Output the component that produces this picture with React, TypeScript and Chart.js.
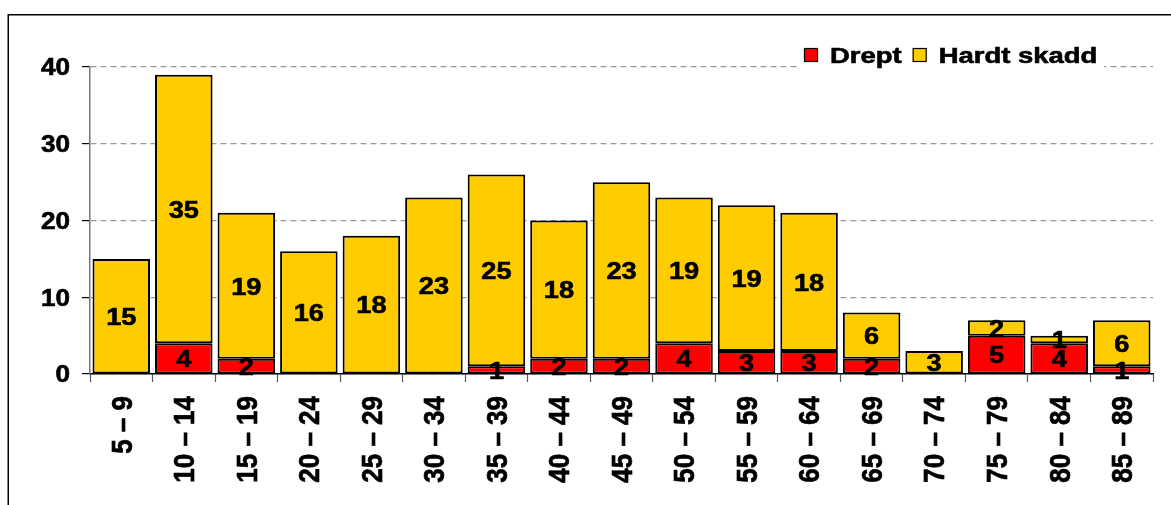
import React, { useEffect, useRef } from "react";
import { Chart, registerables } from "chart.js";

Chart.register(...registerables);

const categories = ["5 – 9", "10 – 14", "15 – 19", "20 – 24", "25 – 29", "30 – 34", "35 – 39", "40 – 44", "45 – 49", "50 – 54", "55 – 59", "60 – 64", "65 – 69", "70 – 74", "75 – 79", "80 – 84", "85 – 89"];
const drept = [0, 4, 2, 0, 0, 0, 1, 2, 2, 4, 3, 3, 2, 0, 5, 4, 1];
const hardtSkadd = [15, 35, 19, 16, 18, 23, 25, 18, 23, 19, 19, 18, 6, 3, 2, 1, 6];
const yTicks = [0, 10, 20, 30, 40];

const FONT = '"Liberation Sans", Arial, Helvetica, sans-serif';
const SX = 1.11;

function drawText(ctx: CanvasRenderingContext2D, text: string, x: number, y: number, size: number, align: CanvasTextAlign, sx: number) {
  ctx.save();
  ctx.translate(x, y);
  ctx.scale(sx, 1);
  ctx.font = `bold ${size}px ${FONT}`;
  ctx.textAlign = align;
  ctx.textBaseline = "alphabetic";
  ctx.fillStyle = "#000";
  ctx.strokeStyle = "#000";
  ctx.lineWidth = 0.6;
  ctx.fillText(text, 0, size * 0.716 / 2);
  ctx.strokeText(text, 0, size * 0.716 / 2);
  ctx.restore();
}

const decorPlugin = {
  id: "decor",
  beforeDraw(chart: any) {
    const ctx = chart.ctx as CanvasRenderingContext2D;
    ctx.save();
    ctx.fillStyle = "#fff";
    ctx.fillRect(0, 0, chart.width, chart.height);
    ctx.strokeStyle = "#000";
    ctx.lineWidth = 1.5;
    ctx.beginPath();
    ctx.moveTo(8.25, chart.height);
    ctx.lineTo(8.25, 14.75);
    ctx.lineTo(chart.width, 14.75);
    ctx.stroke();
    ctx.restore();
  },
  afterDatasetsDraw(chart: any) {
    const ctx = chart.ctx as CanvasRenderingContext2D;
    chart.data.datasets.forEach((ds: any, i: number) => {
      const meta = chart.getDatasetMeta(i);
      meta.data.forEach((el: any, j: number) => {
        const v = ds.data[j];
        if (!v) return;
        const p = el.getProps(["x", "y", "base"], true);
        drawText(ctx, String(v), p.x, (p.y + p.base) / 2, 24.5, "center", SX);
      });
    });
  },
  afterDraw(chart: any) {
    const ctx = chart.ctx as CanvasRenderingContext2D;
    const area = chart.chartArea;
    const ys = chart.scales.y;
    const xs = chart.scales.x;
    yTicks.forEach((t) => {
      drawText(ctx, String(t), area.left - 20, ys.getPixelForValue(t), 23.5, "right", SX);
    });
    categories.forEach((c, i) => {
      const x = xs.getPixelForValue(i);
      ctx.save();
      ctx.translate(x, area.bottom + 22);
      ctx.rotate(-Math.PI / 2);
      ctx.scale(1, SX);
      const size = 26;
      ctx.font = `bold ${size}px ${FONT}`;
      ctx.textAlign = "right";
      ctx.textBaseline = "alphabetic";
      ctx.fillStyle = "#000";
      ctx.strokeStyle = "#000";
      ctx.lineWidth = 0.6;
      ctx.fillText(c, 0, size * 0.716 / 2);
      ctx.strokeText(c, 0, size * 0.716 / 2);
      ctx.restore();
    });
    // legend
    const lsx = 1.22;
    const lsize = 22.5;
    const startX = area.right - 349;
    const cy = 55;
    ctx.save();
    ctx.fillStyle = "#fff";
    ctx.fillRect(startX - 6, 40, 306, 29);
    ctx.restore();
    const items = [
      { label: "Drept", color: "#FF0000" },
      { label: "Hardt skadd", color: "#FFCC00" },
    ];
    let x = startX;
    items.forEach((it) => {
      ctx.save();
      ctx.fillStyle = it.color;
      ctx.fillRect(x, cy - 7, 14, 14);
      ctx.strokeStyle = "#000";
      ctx.lineWidth = 1.2;
      ctx.strokeRect(x + 0.5, cy - 7 + 0.5, 13, 13);
      ctx.font = `bold ${lsize}px ${FONT}`;
      const w = ctx.measureText(it.label).width * lsx;
      ctx.restore();
      drawText(ctx, it.label, x + 26, cy, lsize, "left", lsx);
      x = x + 26 + w + 11;
    });
  },
};

export default function App() {
  const ref = useRef<HTMLCanvasElement | null>(null);
  useEffect(() => {
    if (!ref.current) return;
    const chart = new Chart(ref.current, {
      type: "bar",
      data: {
        labels: categories,
        datasets: [
          {
            label: "Drept",
            data: drept.map((v) => (v === 0 ? null : v)),
            backgroundColor: "#FF0000",
            borderColor: "#000",
            borderWidth: 2,
            borderSkipped: false,
            barPercentage: 0.92,
            categoryPercentage: 1,
          },
          {
            label: "Hardt skadd",
            data: hardtSkadd.map((v) => (v === 0 ? null : v)),
            backgroundColor: "#FFCC00",
            borderColor: "#000",
            borderWidth: 2,
            borderSkipped: false,
            barPercentage: 0.92,
            categoryPercentage: 1,
          },
        ],
      },
      options: {
        responsive: false,
        animation: false,
        layout: { padding: { left: 82, top: 67, right: 18, bottom: 123 } },
        plugins: {
          legend: { display: false },
          tooltip: { enabled: false },
        },
        scales: {
          x: {
            stacked: true,
            offset: true,
            ticks: { display: false },
            grid: {
              display: true,
              drawOnChartArea: false,
              drawTicks: true,
              tickLength: 8,
              tickColor: "#555",
              tickWidth: 1.2,
              offset: true,
            },
            border: { display: true, color: "#000", width: 1.5 },
          },
          y: {
            stacked: true,
            min: 0,
            max: 40,
            ticks: { display: false, stepSize: 10 },
            grid: {
              display: true,
              color: "#999",
              lineWidth: 1.2,
              drawTicks: true,
              tickLength: 8,
              tickColor: "#000",
              tickWidth: 1.2,
              tickBorderDash: [],
            },
            border: { display: true, color: "#777", width: 1.5, dash: [6, 4] },
          },
        },
      },
      plugins: [decorPlugin],
    });
    return () => chart.destroy();
  }, []);
  return (
    <div style={{ position: "absolute", left: 0, top: 0, width: 1171, height: 505 }}>
      <canvas ref={ref} width={1171} height={505} style={{ display: "block" }} />
    </div>
  );
}
